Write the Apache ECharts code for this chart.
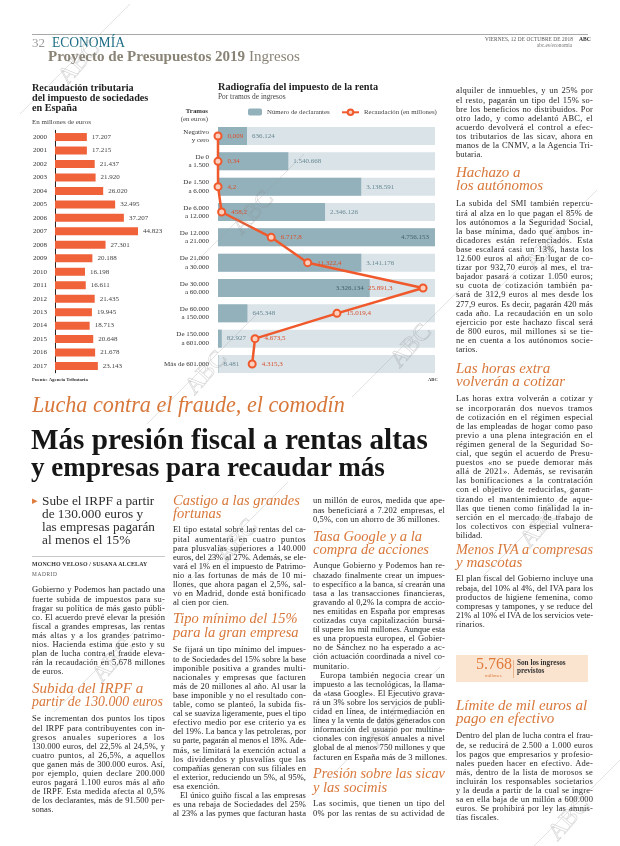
<!DOCTYPE html>
<html lang="es"><head><meta charset="utf-8">
<script src="https://cdn.jsdelivr.net/npm/echarts@6.0.0/dist/echarts.min.js"></script>
<style>
html,body{margin:0;padding:0}
body{width:620px;height:846px;position:relative;overflow:hidden;background:#fff;font-family:'Liberation Serif','Times New Roman',serif;color:#2a2a2a}
#chart{position:absolute;left:0;top:0;width:620px;height:846px;z-index:1}
#txt{position:absolute;left:0;top:0;width:620px;height:846px;z-index:2}
#wm{position:absolute;left:0;top:0;z-index:3;pointer-events:none}
.t{position:absolute;white-space:nowrap;line-height:1}
.ln{position:absolute;text-align:justify;text-align-last:justify;font-size:8.5px;line-height:9.1px;color:#262626;white-space:nowrap}
.ln.last{text-align-last:left}
.hd{font-style:italic;color:#d8773a}
</style></head><body>
<div id="chart"></div>
<div id="txt"></div>
<svg id="wm" width="620" height="846"></svg>
<script>
// ---------- DATA ----------
const years = ['2000','2001','2002','2003','2004','2005','2006','2007','2008','2009','2010','2011','2012','2013','2014','2015','2016','2017'];
const sociedades = [17207,17215,21437,21920,26020,32495,37207,44823,27301,20188,16198,16611,21435,19945,18713,20648,21678,23143];
const tramos = ['Negativo\ny cero','De 0\na 1.500','De 1.500\na 6.000','De 6.000\na 12.000','De 12.000\na 21.000','De 21.000\na 30.000','De 30.000\na 60.000','De 60.000\na 150.000','De 150.000\na 601.000','Más de 601.000'];
const declarantes = [636124,1540668,3138591,2346126,4756153,3141176,3326134,645348,82927,8481];
const recaudacion = [0.009,0.34,4.2,458.2,6717.8,11322.4,25891.3,15019.4,4673.5,4315.3];

const col1a = ['Gobierno y Podemos han pactado una','fuerte subida de impuestos para su-','fragar su política de más gasto públi-','co. El acuerdo prevé elevar la presión','fiscal a grandes empresas, las rentas','más altas y a los grandes patrimo-','nios. Hacienda estima que esto y su','plan de lucha contra el fraude eleva-','rán la recaudación en 5.678 millones','de euros.'];
const col1b = ['Se incrementan dos puntos los tipos','del IRPF para contribuyentes con in-','gresos anuales superiores a los','130.000 euros, del 22,5% al 24,5%, y','cuatro puntos, al 26,5%, a aquellos','que ganen más de 300.000 euros. Así,','por ejemplo, quien declare 200.000','euros pagará 1.100 euros más al año','de IRPF. Esta medida afecta al 0,5%','de los declarantes, más de 91.500 per-','sonas.'];
const col2a = ['El tipo estatal sobre las rentas del ca-','pital aumentará en cuatro puntos','para plusvalías superiores a 140.000','euros, del 23% al 27%. Además, se ele-','vará el 1% en el impuesto de Patrimo-','nio a las fortunas de más de 10 mi-','llones, que ahora pagan el 2,5%, sal-','vo en Madrid, donde está bonificado','al cien por cien.'];
const col2b = ['Se fijará un tipo mínimo del impues-','to de Sociedades del 15% sobre la base','imponible positiva a grandes multi-','nacionales y empresas que facturen','más de 20 millones al año. Al usar la','base imponible y no el resultado con-','table, como se planteó, la subida fis-','cal se suaviza ligeramente, pues el tipo','efectivo medio por ese criterio ya es','del 19%. La banca y las petroleras, por','su parte, pagarán al menos el 18%. Ade-','más, se limitará la exención actual a','los dividendos y plusvalías que las','compañías generan con sus filiales en','el exterior, reduciendo un 5%, al 95%,','esa exención.'];
const col2c = ['  El único guiño fiscal a las empresas','es una rebaja de Sociedades del 25%','al 23% a las pymes que facturan hasta'];
const col3a = ['un millón de euros, medida que ape-','nas beneficiará a 7.202 empresas, el','0,5%, con un ahorro de 36 millones.'];
const col3b = ['Aunque Gobierno y Podemos han re-','chazado finalmente crear un impues-','to específico a la banca, sí crearán una','tasa a las transacciones financieras,','gravando al 0,2% la compra de accio-','nes emitidas en España por empresas','cotizadas cuya capitalización bursá-','til supere los mil millones. Aunque esta','es una propuesta europea, el Gobier-','no de Sánchez no ha esperado a ac-','ción actuación coordinada a nivel co-','munitario.'];
const col3c = ['  Europa también negocia crear un','impuesto a las tecnológicas, la llama-','da «tasa Google». El Ejecutivo grava-','rá un 3% sobre los servicios de publi-','cidad en línea, de intermediación en','línea y la venta de datos generados con','información del usuario por multina-','cionales con ingresos anuales a nivel','global de al menos 750 millones y que','facturen en España más de 3 millones.'];
const col3d = ['Las socimis, que tienen un tipo del','0% por las rentas de su actividad de'];
const col4a = ['alquiler de inmuebles, y un 25% por','el resto, pagarán un tipo del 15% so-','bre los beneficios no distribuidos. Por','otro lado, y como adelantó ABC, el','acuerdo devolverá el control a efec-','tos tributarios de las sicav, ahora en','manos de la CNMV, a la Agencia Tri-','butaria.'];
const col4b = ['La subida del SMI también repercu-','tirá al alza en lo que pagan el 85% de','los autónomos a la Seguridad Social,','la base mínima, dado que ambos in-','dicadores están referenciados. Esta','base escalará casi un 13%, hasta los','12.600 euros al año. En lugar de co-','tizar por 932,70 euros al mes, el tra-','bajador pasará a cotizar 1.050 euros;','su cuota de cotización también pa-','sará de 312,9 euros al mes desde los','277,9 euros. Es decir, pagarán 420 más','cada año. La recaudación en un solo','ejercicio por este hachazo fiscal será','de 800 euros, mil millones si se tie-','ne en cuenta a los autónomos socie-','tarios.'];
const col4c = ['Las horas extra volverán a cotizar y','se incorporarán dos nuevos tramos','de cotización en el régimen especial','de las empleadas de hogar como paso','previo a una plena integración en el','régimen general de la Seguridad So-','cial, que según el acuerdo de Presu-','puestos «no se puede demorar más','allá de 2021». Además, se revisarán','las bonificaciones a la contratación','con el objetivo de reducirlas, garan-','tizando el mantenimiento de aque-','llas que tienen como finalidad la in-','serción en el mercado de trabajo de','los colectivos con especial vulnera-','bilidad.'];
const col4d = ['El plan fiscal del Gobierno incluye una','rebaja, del 10% al 4%, del IVA para los','productos de higiene femenina, como','compresas y tampones, y se reduce del','21% al 10% el IVA de los servicios vete-','rinarios.'];
const col4e = ['Dentro del plan de lucha contra el frau-','de, se reducirá de 2.500 a 1.000 euros','los pagos que empresarios y profesio-','nales pueden hacer en efectivo. Ade-','más, dentro de la lista de morosos se','incluirán los responsables societarios','y la deuda a partir de la cual se ingre-','sa en ella baja de un millón a 600.000','euros. Se prohibirá por ley las amnis-','tías fiscales.'];

// ---------- TEXT HELPERS ----------
const txt = document.getElementById('txt');
function addText(str, x, y, fs, style, cls){
  const d = document.createElement('div');
  d.className = 't' + (cls ? ' ' + cls : '');
  d.textContent = str;
  d.style.left = x + 'px';
  d.style.top = (y - 0.61 * fs) + 'px';
  d.style.fontSize = fs + 'px';
  Object.assign(d.style, style || {});
  txt.appendChild(d);
  return d;
}
function addRight(str, xr, y, fs, style){
  const d = addText(str, 0, y, fs, style);
  d.style.left = (xr - d.getBoundingClientRect().width) + 'px';
  return d;
}
function fitWidth(d, w){
  const cur = d.getBoundingClientRect().width;
  const fs = parseFloat(d.style.fontSize);
  const nfs = fs * w / cur;
  d.style.fontSize = nfs + 'px';
  d.style.top = (parseFloat(d.style.top) + 0.61 * fs - 0.61 * nfs) + 'px';
}
// justified: true when the paragraph's final line is a cut (continues in next column)
function addPara(lines, x, y, w, cont){
  const lh = 9.1;
  lines.forEach((s, i) => {
    const last = i === lines.length - 1 && !cont;
    const d = document.createElement('div');
    d.className = 'ln last';
    d.style.left = x + 'px';
    d.style.width = w + 'px';
    d.style.top = (y + i * lh - 5.6) + 'px';
    let ind = 0;
    if (s.startsWith('  ')) { ind = 7; d.style.textIndent = ind + 'px'; s = s.trim(); }
    const sp = document.createElement('span');
    sp.textContent = s;
    d.appendChild(sp);
    txt.appendChild(d);
    const nat = sp.getBoundingClientRect().width + ind;
    const avail = w - nat;
    let ls = 0;
    if (avail < 0) ls = avail / s.length - 0.01;
    else if (!last) ls = Math.min(avail / s.length * 0.55, 0.45);
    else ls = 0.1;
    d.style.letterSpacing = ls + 'px';
    d.textContent = s;
    if (!last) d.className = 'ln';
  });
}
function addHead(lines, x, y, fs, lh, maxW){
  lines.forEach((s, i) => {
    const d = addText(s, x, y + i * lh, fs, {}, 'hd');
    if (maxW && d.getBoundingClientRect().width > maxW) fitWidth(d, maxW);
  });
}

// ---------- PAGE HEADER ----------
const rule = document.createElement('div');
Object.assign(rule.style, {position:'absolute', left:'32px', top:'34px', width:'556px', height:'0', borderTop:'1px solid #a8a8a8'});
txt.appendChild(rule);
addText('32', 32, 44, 13, {color:'#9a9a9a'});
fitWidth(addText('ECONOMÍA', 52, 44, 14, {color:'#1f6d86'}), 73);
const pr = addText('', 48, 58, 15, {color:'#8a8476'});
pr.innerHTML = '<b>Proyecto de Presupuestos 2019</b> Ingresos';
fitWidth(pr, 252);
addRight('VIERNES, 12 DE OCTUBRE DE 2018', 573, 40, 5.3, {color:'#555', letterSpacing:'0.1px'});
addText('ABC', 579, 40, 5.6, {color:'#333', fontWeight:'bold'});
addRight('abc.es/economia', 572, 46, 5.3, {color:'#777'});

// ---------- CHART TEXTS ----------
['Recaudación tributaria','del impuesto de sociedades','en España'].forEach((s,i)=>addText(s, 32, 89 + i*10.3, 10.2, {fontWeight:'bold', color:'#222'}));
addText('En millones de euros', 32, 123, 7, {color:'#444'});
addText('Fuente: Agencia Tributaria', 32, 381, 4.8, {color:'#333', fontWeight:'bold'});
fitWidth(addText('Radiografía del impuesto de la renta', 218, 88, 10.2, {fontWeight:'bold', color:'#222'}), 160);
addText('Por tramos de ingresos', 218, 98, 7.4, {color:'#444'});
addRight('Tramos', 208, 112.5, 6.8, {fontWeight:'bold', color:'#333'});
addRight('(en euros)', 208, 120, 6.8, {color:'#444'});
addText('ABC', 428, 381, 4.6, {color:'#333', fontWeight:'bold'});

// ---------- HEADLINES ----------
fitWidth(addText('Lucha contra el fraude, el comodín', 32, 408, 22, {}, 'hd'), 313);
fitWidth(addText('Más presión fiscal a rentas altas', 31, 443, 26, {fontWeight:'bold', color:'#161616'}), 397);
fitWidth(addText('y empresas para recaudar más', 31, 471, 26, {fontWeight:'bold', color:'#161616'}), 354);

// ---------- COLUMN 1 ----------
addText('▸', 32, 502, 11, {color:'#e07a3a'});
['Sube el IRPF a partir','de 130.000 euros y','las empresas pagarán','al menos el 15%'].forEach((s,i)=>addText(s, 42, 502 + i*13, 13.3, {color:'#2e2e2e'}));
const r2 = document.createElement('div');
Object.assign(r2.style, {position:'absolute', left:'32px', top:'556px', width:'133px', height:'0', borderTop:'1px solid #c8c8c8'});
txt.appendChild(r2);
addText('MONCHO VELOSO / SUSANA ALCELAY', 32, 566, 5.9, {fontWeight:'bold', color:'#333', letterSpacing:'0.15px'});
addText('MADRID', 32, 575, 5.4, {color:'#555', letterSpacing:'0.6px'});
addPara(col1a, 32, 591, 133);
addHead(['Subida del IRPF a','partir de 130.000 euros'], 32, 690, 15, 13, 131);
addPara(col1b, 32, 720, 133);

// ---------- COLUMN 2 ----------
addHead(['Castigo a las grandes','fortunas'], 173, 502, 14.5, 13, 133);
addPara(col2a, 173, 531, 133);
addHead(['Tipo mínimo del 15%','para la gran empresa'], 173, 620, 14.5, 13.5, 133);
addPara(col2b, 173, 651, 133);
addPara(col2c, 173, 651 + col2b.length * 9.1, 133, true);

// ---------- COLUMN 3 ----------
addPara(col3a, 313, 502, 132);
addHead(['Tasa Google y a la','compra de acciones'], 313, 538, 14.5, 13, 132);
addPara(col3b, 313, 567, 132);
addPara(col3c, 313, 567 + col3b.length * 9.1, 132);
addHead(['Presión sobre las sicav','y las socimis'], 313, 775, 14.5, 13.5, 132);
addPara(col3d, 313, 805, 132, true);

// ---------- COLUMN 4 ----------
addPara(col4a, 456, 92, 137);
addHead(['Hachazo a','los autónomos'], 456, 174, 15, 13.5, 137);
addPara(col4b, 456, 205, 137);
addHead(['Las horas extra','volverán a cotizar'], 456, 370, 15, 13.5, 137);
addPara(col4c, 456, 400, 137);
addHead(['Menos IVA a compresas','y mascotas'], 456, 551, 15, 13.5, 137);
addPara(col4d, 456, 580, 137);
const box = document.createElement('div');
Object.assign(box.style, {position:'absolute', left:'456px', top:'655px', width:'132px', height:'27px', background:'#fbe4cf'});
txt.appendChild(box);
addText('5.768', 476, 666, 16, {color:'#e07a3a'});
addText('millones', 485, 677, 4.8, {color:'#e07a3a'});
const vd = document.createElement('div');
Object.assign(vd.style, {position:'absolute', left:'513px', top:'660px', width:'0', height:'18px', borderLeft:'1px solid #e8b48e'});
txt.appendChild(vd);
addText('Son los ingresos', 517, 664, 7.2, {fontWeight:'bold', color:'#333'});
addText('previstos', 517, 672.5, 7.2, {fontWeight:'bold', color:'#333'});
addHead(['Límite de mil euros al','pago en efectivo'], 456, 707, 15, 13.5, 137);
addPara(col4e, 456, 737, 137);

// ---------- WATERMARKS ----------
const wm = document.getElementById('wm');
const NS = 'http://www.w3.org/2000/svg';
[[78,62],[252,212],[545,248],[112,660],[236,540],[388,725],[540,525],[568,818],[410,345],[205,372]].forEach(([cx,cy])=>{
  const g = document.createElementNS(NS,'g');
  g.setAttribute('opacity','0.35');
  const l = document.createElementNS(NS,'line');
  l.setAttribute('x1',cx-58); l.setAttribute('y1',cy+52); l.setAttribute('x2',cx+52); l.setAttribute('y2',cy-58);
  l.setAttribute('stroke','#9a9a9a'); l.setAttribute('stroke-width','0.8');
  g.appendChild(l);
  const t = document.createElementNS(NS,'text');
  t.setAttribute('x',cx); t.setAttribute('y',cy+8);
  t.setAttribute('text-anchor','middle');
  t.setAttribute('font-family','Liberation Serif');
  t.setAttribute('font-size','24');
  t.setAttribute('fill','none'); t.setAttribute('stroke','#8c8c8c'); t.setAttribute('stroke-width','0.7');
  t.setAttribute('transform','rotate(-48 '+cx+' '+cy+')');
  t.textContent = 'ABC';
  g.appendChild(t);
  wm.appendChild(g);
});

// ---------- CHARTS ----------
const fmt = v => { const s = String(v).split('.'); return s[0].replace(/\B(?=(\d{3})+(?!\d))/g,'.') + (s[1] ? ',' + s[1] : ''); };
const insideIdx = [4, 6];
const leftIdx = [6];
const chart = echarts.init(document.getElementById('chart'), null, {renderer:'canvas'});
chart.setOption({
  animation:false,
  textStyle:{fontFamily:'Liberation Serif'},
  grid:[
    {left:55, top:130.3, width:83, height:242.5, containLabel:false, outerBoundsMode:'none'},
    {left:218, top:123.35, width:217, height:253.3, containLabel:false, outerBoundsMode:'none'}
  ],
  xAxis:[
    {type:'value', gridIndex:0, min:0, max:'dataMax', show:false},
    {type:'value', gridIndex:1, min:0, max:'dataMax', show:false},
    {type:'value', gridIndex:1, min:0, max:27400, show:false}
  ],
  yAxis:[
    {type:'category', gridIndex:0, data:years, inverse:true,
      axisLine:{show:true, lineStyle:{color:'#222', width:1}}, axisTick:{show:false},
      axisLabel:{margin:8, fontSize:7, color:'#333', fontFamily:'Liberation Serif'}},
    {type:'category', gridIndex:1, data:tramos, inverse:true,
      axisLine:{show:false}, axisTick:{show:false},
      axisLabel:{margin:9, fontSize:7, lineHeight:8.6, color:'#333', align:'right', fontFamily:'Liberation Serif'}}
  ],
  legend:[
    {data:['Número de declarantes'], left:248, top:108.5, padding:0, itemWidth:14, itemHeight:7, itemGap:0, selectedMode:false,
      textStyle:{fontSize:6.8, color:'#444', fontFamily:'Liberation Serif'}},
    {data:['Recaudación (en millones)'], left:341, top:108.5, padding:0, itemWidth:17, itemHeight:7, itemGap:0, selectedMode:false,
      textStyle:{fontSize:6.8, color:'#444', fontFamily:'Liberation Serif'}}
  ],
  series:[
    {type:'bar', xAxisIndex:0, yAxisIndex:0, data:sociedades, barWidth:8,
      itemStyle:{color:'#f0623a'},
      label:{show:true, position:'right', distance:5, fontSize:7, color:'#444', fontFamily:'Liberation Serif', formatter:p=>fmt(p.value)}},
    {type:'bar', name:'Número de declarantes', xAxisIndex:1, yAxisIndex:1, barWidth:18,
      data:declarantes.map((v,i)=>insideIdx.includes(i)?{value:v, label:{position:'insideRight', distance:6, color:'#45616c'}}:{value:v}),
      showBackground:true, backgroundStyle:{color:'#d9e3e8'},
      itemStyle:{color:'#93b1bb'},
      label:{show:true, position:'right', distance:5, fontSize:7, color:'#6a8893', fontFamily:'Liberation Serif', formatter:p=>fmt(p.value)}},
    {type:'line', name:'Recaudación (en millones)', xAxisIndex:2, yAxisIndex:1, z:5,
      data:recaudacion.map((v,i)=>leftIdx.includes(i)?{value:v, label:{position:'left', distance:26}}:{value:v}),
      symbol:'circle', symbolSize:7,
      lineStyle:{color:'#f0592b', width:2.5},
      itemStyle:{color:'#fbd0bf', borderColor:'#f0592b', borderWidth:2},
      label:{show:true, position:'right', distance:5, fontSize:7, color:'#d9502c', fontFamily:'Liberation Serif', formatter:p=>fmt(p.value)}}
  ]
});
</script></body></html>
